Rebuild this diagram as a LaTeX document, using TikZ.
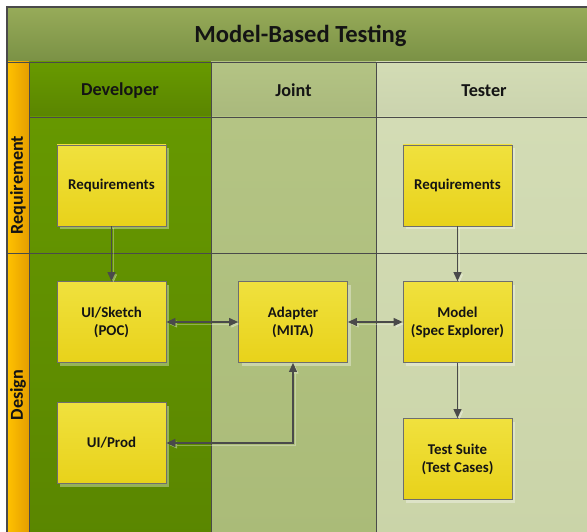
\documentclass[tikz,border=0pt]{standalone}
\usepackage{fontspec}
\setmainfont{Carlito}
\usetikzlibrary{arrows.meta,shadows}

\definecolor{titletop}{HTML}{97AB59}
\definecolor{titlebot}{HTML}{7A9145}
\definecolor{devheadtop}{HTML}{689A00}
\definecolor{devheadbot}{HTML}{5A8500}
\definecolor{devtop}{HTML}{669800}
\definecolor{devbot}{HTML}{5A8600}
\definecolor{jointtop}{HTML}{B4C484}
\definecolor{jointbot}{HTML}{AABB78}
\definecolor{testtop}{HTML}{D3DCB5}
\definecolor{testbot}{HTML}{CAD4A8}
\definecolor{lanel}{HTML}{FFC200}
\definecolor{laner}{HTML}{E59E00}
\definecolor{boxtop}{HTML}{F0E13E}
\definecolor{boxbot}{HTML}{E8D21A}
\definecolor{gridline}{HTML}{4A4A4A}
\definecolor{ink}{HTML}{141414}

\begin{document}
\begin{tikzpicture}[x=1pt,y=-1pt,
  grid/.style={draw=gridline,line width=0.9pt},
  headtext/.style={font=\fontsize{18.2}{21}\selectfont\bfseries,text=ink},
  stepbox/.style={draw=gridline!80,line width=0.8pt,minimum width=109pt,minimum height=81pt,
    top color=boxtop,bottom color=boxbot,align=center,text=ink,
    font=\fontsize{14.9}{18}\selectfont\bfseries,
    drop shadow={shadow xshift=3pt,shadow yshift=-3pt,fill=white,opacity=0.35}},
  link/.style={draw=gridline,line width=1.1pt,
    preaction={draw=white,opacity=0.3,transform canvas={xshift=2pt,yshift=-2pt}}},
  tip/.style={-{Triangle[length=9pt,width=8pt]}},
  bitip/.style={{Triangle[length=9pt,width=8pt]}-{Triangle[length=9pt,width=8pt]}}]

\useasboundingbox (0,0) rectangle (587,532);
\begin{scope}
\clip (0,0) rectangle (587,532);

% title band
\shade[top color=titletop,bottom color=titlebot] (7,7) rectangle (600,62);
% column headers
\shade[top color=devheadtop,bottom color=devheadbot] (29,62) rectangle (211,117);
\shade[top color=jointtop,bottom color=jointtop!94!black] (211,62) rectangle (376,117);
\shade[top color=testtop,bottom color=testtop!96!black] (376,62) rectangle (600,117);
% column bodies
\shade[top color=devtop,bottom color=devbot] (29,117) rectangle (211,540);
\shade[top color=jointtop,bottom color=jointbot] (211,117) rectangle (376,540);
\shade[top color=testtop,bottom color=testbot] (376,117) rectangle (600,540);
% row label strip
\shade[left color=lanel,right color=laner] (7,62) rectangle (29,540);

% grid
\draw[grid,line width=1.3pt] (600,7) -- (7,7) -- (7,540);
\draw[grid] (7,62) -- (600,62);
\draw[grid] (29,117) -- (600,117);
\draw[grid] (7,253) -- (600,253);
\draw[grid] (29,62) -- (29,540);
\draw[grid] (211,62) -- (211,540);
\draw[grid] (376,62) -- (376,540);
\end{scope}

% labels
\node[font=\fontsize{24.6}{28}\selectfont\bfseries,text=ink] (title) at (300.5,35.5) {Model-Based Testing};
\node[headtext] (hdev) at (120,90.5) {Developer};
\node[headtext] (hjoint) at (293.5,90.5) {Joint};
\node[headtext] (htest) at (484,90.5) {Tester};
\node[headtext,rotate=90] (rreq) at (18,185) {Requirement};
\node[headtext,rotate=90] (rdes) at (18,395) {Design};

% boxes
\node[stepbox] (devreq) at (111.5,185.5) {Requirements};
\node[stepbox] (sketch) at (111.5,322) {UI/Sketch\\(POC)};
\node[stepbox] (prod) at (111.5,443) {UI/Prod};
\node[stepbox] (adapter) at (293,322) {Adapter\\(MITA)};
\node[stepbox] (testreq) at (457.5,185.5) {Requirements};
\node[stepbox] (model) at (457.5,322) {Model\\(Spec Explorer)};
\node[stepbox] (suite) at (457.5,459) {Test Suite\\(Test Cases)};

% connectors
\draw[link,tip] (devreq) -- (sketch);
\draw[link,bitip] (sketch) -- (adapter);
\draw[link,bitip] (adapter) -- (model);
\draw[link,bitip] (prod.east) -- (prod.east -| adapter.south) -- (adapter.south);
\draw[link,tip] (testreq) -- (model);
\draw[link,tip] (model) -- (suite);
\end{tikzpicture}
\end{document}
